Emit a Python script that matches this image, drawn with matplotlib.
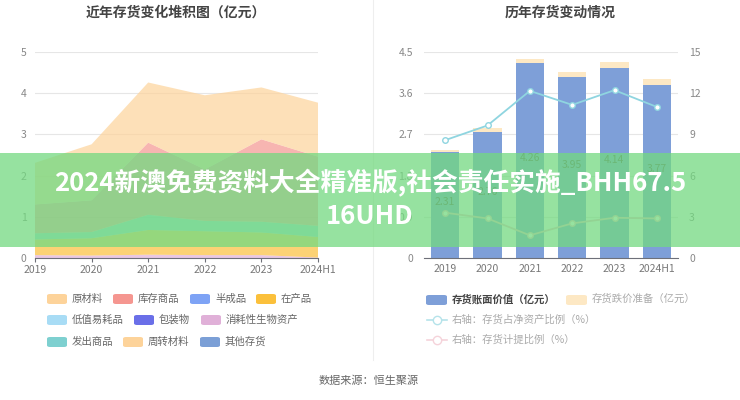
import numpy as np
import matplotlib.pyplot as plt
from matplotlib.patches import FancyBboxPatch, Rectangle
from matplotlib.lines import Line2D

plt.rcParams['font.family'] = ['Noto Sans CJK SC', 'DejaVu Sans']

years = ['2019', '2020', '2021', '2022', '2023', '2024H1']

# left: stacked inventory components (亿元), bottom -> top
bio_assets = [0.07, 0.06, 0.08, 0.07, 0.07, 0.01]
wip = [0.38, 0.42, 0.60, 0.58, 0.55, 0.50]
shipped = [0.15, 0.15, 0.37, 0.25, 0.26, 0.27]
goods = [0.70, 0.77, 1.75, 1.25, 2.00, 1.68]
raw = [1.01, 1.36, 1.46, 1.80, 1.26, 1.31]

# right: book value, reserve, ratios
book_value = [2.31, 2.76, 4.26, 3.95, 4.14, 3.77]
reserve = [0.05, 0.07, 0.08, 0.12, 0.14, 0.13]
net_asset_ratio = [8.58, 9.65, 12.17, 11.15, 12.22, 11.0]
provision_ratio = [3.3, 2.88, 1.65, 2.52, 2.93, 2.88]

legend_left = ['原材料', '库存商品', '半成品', '在产品', '低值易耗品', '包装物',
               '消耗性生物资产', '发出商品', '周转材料', '其他存货']
legend_colors = ['#fdd39a', '#f59690', '#7ea3f5', '#fbc03b', '#a8dcf5', '#6a6fe8',
                 '#e0b0d8', '#7ed0d0', '#fdd39a', '#7b9fd6']

fig = plt.figure(figsize=(7.4, 4.0), dpi=100)
W, H = 740, 400

def fx(px):
    return px / W

def fy(py):
    return 1 - py / H

# ---------- left chart ----------
ax1 = fig.add_axes([fx(35), fy(258), fx(318 - 35), (258 - 52) / H])
x = np.arange(len(years))
ax1.stackplot(x, bio_assets, wip, shipped, goods, raw,
              colors=['#e0b0d8', '#fbc03b', '#7ed0d0', '#f59690', '#fdd39a'],
              alpha=0.7, linewidth=0)
ax1.set_xlim(0, len(years) - 1)
ax1.set_ylim(0, 5)
ax1.set_yticks(range(6))
ax1.set_xticks(x)
ax1.set_xticklabels(years)
ax1.grid(axis='y', color='#e6e6e6', linewidth=0.8)
ax1.set_axisbelow(True)
for s in ['top', 'right', 'left']:
    ax1.spines[s].set_visible(False)
ax1.spines['bottom'].set_color('#6e7079')
ax1.tick_params(axis='y', length=0, labelsize=7.5, labelcolor='#888', pad=6)
ax1.tick_params(axis='x', length=3, color='#6e7079', labelsize=7.5, labelcolor='#777', pad=2)
fig.text(fx(176), fy(13), '近年存货变化堆积图（亿元）', ha='center', va='center',
         fontsize=10, fontweight='bold', color='#444')

# ---------- right chart ----------
ax2 = fig.add_axes([fx(424), fy(258), fx(678 - 424), (258 - 52) / H])
ax2.bar(x, book_value, width=0.67, color='#7e9fd8', zorder=2)
ax2.bar(x, reserve, width=0.67, bottom=book_value, color='#fde8c4', zorder=2)
for i, v in enumerate(book_value):
    ax2.text(i, v / 2 + 0.06, f'{v:.2f}', ha='center', va='center', fontsize=7.5,
             color='#555', zorder=4)
ax2.set_xlim(-0.5, len(years) - 0.5)
ax2.set_ylim(0, 4.5)
ax2.set_yticks([0, 0.9, 1.8, 2.7, 3.6, 4.5])
ax2.set_yticklabels(['0', '0.9', '1.8', '2.7', '3.6', '4.5'])
ax2.set_xticks(x)
ax2.set_xticklabels(years)
ax2.grid(axis='y', color='#e6e6e6', linewidth=0.8)
ax2.set_axisbelow(True)
for s in ['top', 'right', 'left']:
    ax2.spines[s].set_visible(False)
ax2.spines['bottom'].set_color('#6e7079')
ax2.tick_params(axis='y', length=0, labelsize=7.5, labelcolor='#888', pad=8)
ax2.tick_params(axis='x', length=0, labelsize=7.5, labelcolor='#777', pad=4)

ax3 = ax2.twinx()
ax3.plot(x, net_asset_ratio, color='#8fd5e0', linewidth=1.3, marker='o',
         markersize=4, markerfacecolor='white', markeredgewidth=1, zorder=3)
ax3.plot(x, provision_ratio, color='#f3c2cc', linewidth=1.3, marker='o',
         markersize=4, markerfacecolor='white', markeredgewidth=1, zorder=3)
ax3.set_ylim(0, 15)
ax3.set_yticks([0, 3, 6, 9, 12, 15])
for s in ['top', 'right', 'left', 'bottom']:
    ax3.spines[s].set_visible(False)
ax3.tick_params(axis='y', length=0, labelsize=7.5, labelcolor='#888', pad=8)
fig.text(fx(560), fy(13), '历年存货变动情况', ha='center', va='center',
         fontsize=10, fontweight='bold', color='#444')

# separator
fig.add_artist(Line2D([fx(373), fx(373)], [fy(0), fy(360)], color='#eeeeee', linewidth=0.8))

# ---------- left legend ----------
rows_y = [299, 320, 342]
positions = [(0, 47), (0, 113), (0, 190), (0, 256),
             (1, 47), (1, 134), (1, 201),
             (2, 47), (2, 123), (2, 200)]
for (r, px), label, c in zip(positions, legend_left, legend_colors):
    py = rows_y[r]
    fig.add_artist(FancyBboxPatch((fx(px), fy(py + 5)), fx(20), 10 / H,
                                  boxstyle='round,pad=0,rounding_size=0.004',
                                  facecolor=c, edgecolor='none'))
    fig.text(fx(px + 25), fy(py), label, ha='left', va='center', fontsize=7.5, color='#666')

# ---------- right legend ----------
fig.add_artist(FancyBboxPatch((fx(426), fy(305)), fx(21), 10 / H,
                              boxstyle='round,pad=0,rounding_size=0.004',
                              facecolor='#7e9fd8', edgecolor='none'))
fig.text(fx(452), fy(299), '存货账面价值（亿元）', ha='left', va='center',
         fontsize=7.5, color='#444', fontweight='bold')
fig.add_artist(FancyBboxPatch((fx(566), fy(305)), fx(21), 10 / H,
                              boxstyle='round,pad=0,rounding_size=0.004',
                              facecolor='#fde8c4', edgecolor='none'))
fig.text(fx(592), fy(299), '存货跌价准备（亿元）', ha='left', va='center',
         fontsize=7.5, color='#aaa')
for py, lc, label in [(320, '#b5e3ea', '右轴：存货占净资产比例（%）'),
                      (340, '#f5d3da', '右轴：存货计提比例（%）')]:
    fig.add_artist(Line2D([fx(427), fx(447)], [fy(py), fy(py)], color=lc, linewidth=1.2))
    fig.add_artist(Line2D([fx(437)], [fy(py)], color=lc, marker='o', markersize=6,
                          markerfacecolor='white', markeredgewidth=1))
    fig.text(fx(452), fy(py), label, ha='left', va='center', fontsize=7.5, color='#aaa')

fig.text(fx(369), fy(381), '数据来源：恒生聚源', ha='center', va='center',
         fontsize=8, color='#666')

# ---------- overlay banner ----------
fig.add_artist(Rectangle((0, fy(247)), 1, (247 - 153) / H, facecolor=(0.45, 0.85, 0.5),
                         alpha=0.75, edgecolor='none', zorder=10))
fig.text(fx(370), fy(183), '2024新澳免费资料大全精准版,社会责任实施_BHH67.5',
         ha='center', va='center', fontsize=18.5, fontweight='bold', color='white', zorder=11)
fig.text(fx(370), fy(217), '16UHD', ha='center', va='center',
         fontsize=18.5, fontweight='bold', color='white', zorder=11)

fig.savefig('out.png', dpi=100)
